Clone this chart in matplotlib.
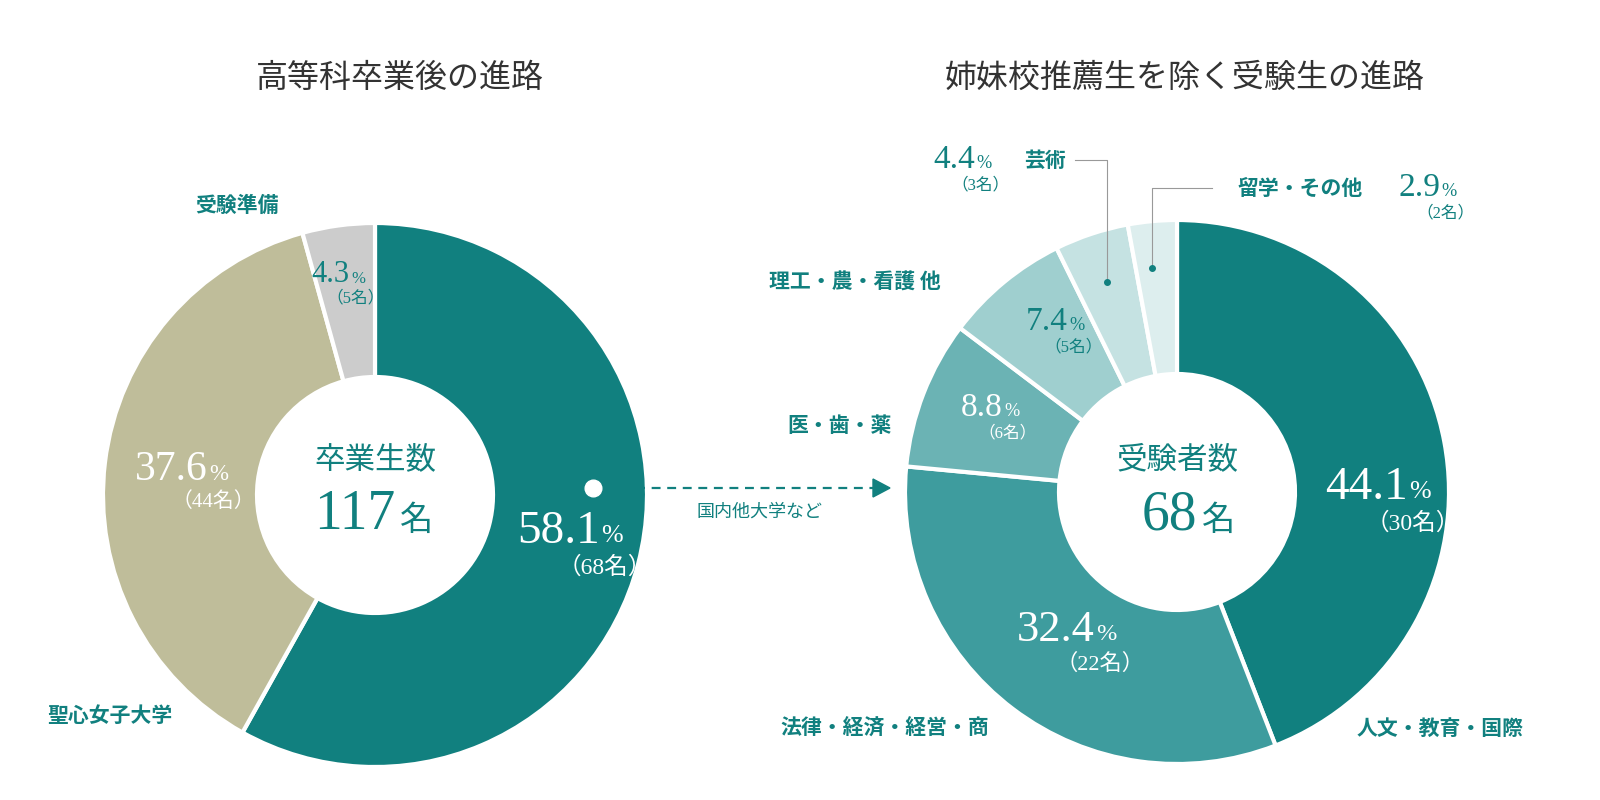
import matplotlib
matplotlib.use("Agg")
import matplotlib.pyplot as plt

JP = ["Noto Sans CJK JP", "DejaVu Sans"]
SERIF = ["Liberation Serif", "Noto Sans CJK JP"]

TEAL = "#11807f"
left_values = [58.1, 37.6, 4.3]
left_counts = [68, 44, 5]
left_colors = [TEAL, "#bfbd9a", "#cccccc"]

right_names = ["人文・教育・国際", "法律・経済・経営・商", "医・歯・薬", "理工・農・看護 他", "芸術", "留学・その他"]
right_values = [44.1, 32.4, 8.8, 7.4, 4.4, 2.9]
right_counts = [30, 22, 6, 5, 3, 2]
right_colors = [TEAL, "#3e9c9e", "#6bb3b4", "#9fcfcf", "#c5e2e2", "#ddeeee"]

W, H = 1600, 800
fig = plt.figure(figsize=(16, 8), dpi=100)


def px(x, y):
    return x / W, 1 - y / H


def donut(cx, cy, r, values, colors):
    ax = fig.add_axes([(cx - r) / W, 1 - (cy + r) / H, 2 * r / W, 2 * r / H])
    ax.pie(values, colors=colors, startangle=90, counterclock=False, radius=1,
           wedgeprops=dict(width=1 - 118 / r, edgecolor="white", linewidth=3))
    ax.set_xlim(-1, 1)
    ax.set_ylim(-1, 1)
    ax.axis("off")


def t(x, y, s, size, color=TEAL, family=JP, **kw):
    fig.text(*px(x, y), s, fontsize=size, color=color, family=family,
             ha=kw.pop("ha", "center"), va=kw.pop("va", "center"), **kw)


def pct(x, y, val, count, size, color):
    # number right-aligned at x, small % after it
    fig.text(*px(x, y), f"{val}", fontsize=size, color=color, family=SERIF, ha="right", va="center")
    fig.text(*px(x + 1, y + 4), "%", fontsize=size * 0.55, color=color, family=SERIF, ha="left", va="center")
    t(x + 5, y + 36 * size / 34, f"（{count}名）", max(size * 0.5, 12), color, family=SERIF)


donut(375, 495, 272, left_values, left_colors)
donut(1177, 492, 272, right_values, right_colors)

t(400, 78, "高等科卒業後の進路", 23, "#333333")
t(1185, 78, "姉妹校推薦生を除く受験生の進路", 23, "#333333")

# left
t(237, 205, "受験準備", 15, fontweight="bold")
pct(350, 275, left_values[2], left_counts[2], 22, TEAL)
pct(208, 470, left_values[1], left_counts[1], 30, "white")
pct(600, 532, left_values[0], left_counts[0], 34, "white")
t(110, 715, "聖心女子大学", 15, fontweight="bold")
t(375, 460, "卒業生数", 22)
fig.text(*px(395, 515), "117", fontsize=40, color=TEAL, family=SERIF, ha="right", va="center")
t(400, 520, "名", 24, ha="left")

# arrow
fig.add_artist(plt.Line2D([593 / W], [1 - 488 / H], marker="o", color="white", markersize=12))
fig.add_artist(plt.Line2D([605 / W, 875 / W], [1 - 488 / H] * 2, color=TEAL, lw=1.6, ls=(0, (4, 3))))
fig.add_artist(plt.Polygon([px(873, 479), px(873, 497), px(890, 488)], closed=True, color=TEAL,
                           transform=fig.transFigure))
t(760, 512, "国内他大学など", 13)

# right
pct(1408, 488, right_values[0], right_counts[0], 34, "white")
t(1440, 728, right_names[0], 15, fontweight="bold")
pct(1095, 630, right_values[1], right_counts[1], 32, "white")
t(885, 728, right_names[1], 15, fontweight="bold")
pct(1003, 408, right_values[2], right_counts[2], 24, "white")
t(840, 425, right_names[2], 15, fontweight="bold")
pct(1068, 322, right_values[3], right_counts[3], 24, TEAL)
t(855, 282, right_names[3], 15, fontweight="bold")
pct(975, 160, right_values[4], right_counts[4], 24, TEAL)
t(1045, 160, right_names[4], 15, fontweight="bold")
pct(1440, 188, right_values[5], right_counts[5], 24, TEAL)
t(1300, 188, right_names[5], 15, fontweight="bold")

# leaders
for xs, ys in [([1075, 1107, 1107], [160, 160, 282]), ([1212, 1152, 1152], [188, 188, 268])]:
    fig.add_artist(plt.Line2D([x / W for x in xs], [1 - y / H for y in ys], color="#999999", lw=0.8))
    fig.add_artist(plt.Line2D([xs[-1] / W], [1 - ys[-1] / H], marker="o", color=TEAL, markersize=4))

t(1177, 460, "受験者数", 22)
fig.text(*px(1197, 515), "68", fontsize=40, color=TEAL, family=SERIF, ha="right", va="center")
t(1202, 520, "名", 24, ha="left")

fig.savefig("out.png", dpi=100, facecolor="white")
